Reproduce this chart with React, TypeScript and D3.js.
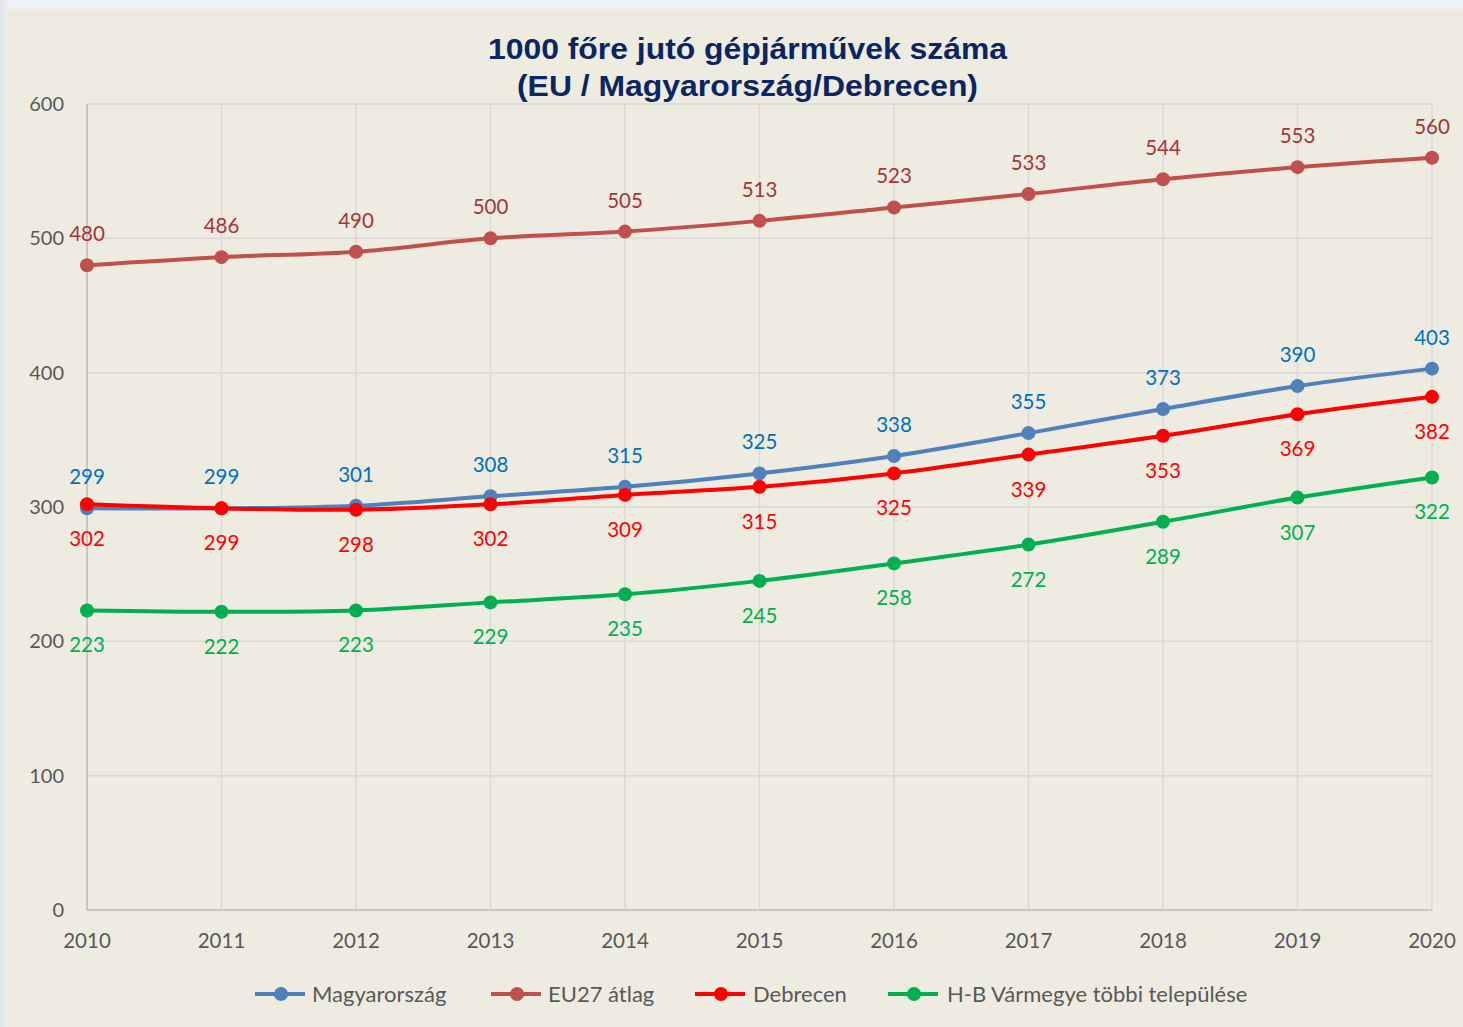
import React from "react";
import * as d3 from "d3";

const years = [2010, 2011, 2012, 2013, 2014, 2015, 2016, 2017, 2018, 2019, 2020];
const magyarorszag = [299, 299, 301, 308, 315, 325, 338, 355, 373, 390, 403];
const eu27 = [480, 486, 490, 500, 505, 513, 523, 533, 544, 553, 560];
const debrecen = [302, 299, 298, 302, 309, 315, 325, 339, 353, 369, 382];
const hb = [223, 222, 223, 229, 235, 245, 258, 272, 289, 307, 322];
const yTicks = [0, 100, 200, 300, 400, 500, 600];

const seriesList = [
  { name: "Magyarország", values: magyarorszag, line: "#4F81BD", label: "#0070C0", pos: "above" },
  { name: "EU27 átlag", values: eu27, line: "#C0504D", label: "#A5353A", pos: "above" },
  { name: "Debrecen", values: debrecen, line: "#FF0000", label: "#FF0000", pos: "below" },
  { name: "H-B Vármegye többi települése", values: hb, line: "#00B050", label: "#00B050", pos: "below" },
];

const W = 1463;
const H = 1027;
const FONT = "Lato, 'Open Sans', sans-serif";
const TFONT = "'Liberation Sans', Arial, sans-serif";

export default function App() {
  const x = d3.scaleLinear().domain([2010, 2020]).range([87, 1432]);
  const y = d3.scaleLinear().domain([0, 600]).range([910, 104]);
  const line = d3
    .line<number>()
    .x((_, i) => x(years[i]))
    .y((d) => y(d))
    .curve(d3.curveCatmullRom.alpha(0.5));

  const legendItems = [
    { lx: 255, tx: 312 },
    { lx: 491, tx: 548 },
    { lx: 695, tx: 753 },
    { lx: 888, tx: 947 },
  ];

  return (
    <div style={{ position: "fixed", left: 0, top: 0, width: W, height: H }}>
      <svg width={W} height={H} style={{ display: "block" }}>
        <defs>
          <linearGradient id="edge" x1="0" y1="0" x2="1" y2="0">
            <stop offset="0" stopColor="#dfe2e6" />
            <stop offset="1" stopColor="#eef1f5" />
          </linearGradient>
        </defs>
        <rect x={0} y={0} width={W} height={H} fill="#eef1f6" />
        <rect x={0} y={0} width={10} height={H} fill="url(#edge)" />
        <rect x={8} y={9} width={W - 8} height={H - 9} fill="#EEEBE0" />

        {/* title */}
        <text x={488} y={59} textLength={519} lengthAdjust="spacingAndGlyphs" fontFamily={TFONT} fontWeight="bold" fontSize={30} fill="#0B2562">
          1000 főre jutó gépjárművek száma
        </text>
        <text x={517} y={96} textLength={461} lengthAdjust="spacingAndGlyphs" fontFamily={TFONT} fontWeight="bold" fontSize={30} fill="#0B2562">
          (EU / Magyarország/Debrecen)
        </text>

        {/* gridlines */}
        {yTicks.map((t) => (
          <line key={"h" + t} x1={87} x2={1432} y1={y(t)} y2={y(t)} stroke="#D9D9D9" strokeWidth={1.5} />
        ))}
        {years.map((yr) => (
          <line key={"v" + yr} x1={x(yr)} x2={x(yr)} y1={104} y2={910} stroke="#D9D9D9" strokeWidth={1.5} />
        ))}
        <line x1={87} x2={87} y1={104} y2={910} stroke="#BFBFBF" strokeWidth={1.5} />
        <line x1={87} x2={1432} y1={910} y2={910} stroke="#BFBFBF" strokeWidth={1.5} />

        {/* y ticks */}
        {yTicks.map((t) => (
          <text key={"yl" + t} x={64} y={y(t) + 7} textAnchor="end" fontFamily={FONT} fontSize={20} fill="#595959">
            {t}
          </text>
        ))}
        {/* x ticks */}
        {years.map((yr) => (
          <text key={"xl" + yr} x={x(yr)} y={948} textAnchor="middle" fontFamily={FONT} fontSize={20.5} fill="#595959">
            {yr}
          </text>
        ))}

        {/* series */}
        {seriesList.map((s) => (
          <g key={s.name}>
            <path d={line(s.values) || ""} fill="none" stroke={s.line} strokeWidth={4} />
            {s.values.map((v, i) => (
              <circle key={i} cx={x(years[i])} cy={y(v)} r={7} fill={s.line} />
            ))}
          </g>
        ))}
        {seriesList.map((s) =>
          s.values.map((v, i) => (
            <text
              key={s.name + "l" + i}
              x={x(years[i])}
              y={s.pos === "above" ? y(v) - 24 : y(v) + 42}
              textAnchor="middle"
              fontFamily={FONT}
              fontSize={20.5}
              fill={s.label}
            >
              {v}
            </text>
          ))
        )}

        {/* legend */}
        {seriesList.map((s, i) => (
          <g key={"lg" + i}>
            <line x1={legendItems[i].lx} x2={legendItems[i].lx + 50} y1={994} y2={994} stroke={s.line} strokeWidth={4} />
            <circle cx={legendItems[i].lx + 26} cy={994} r={7} fill={s.line} />
            <text x={legendItems[i].tx} y={1001.5} fontFamily={FONT} fontSize={22} fill="#595959">
              {s.name}
            </text>
          </g>
        ))}
      </svg>
    </div>
  );
}
